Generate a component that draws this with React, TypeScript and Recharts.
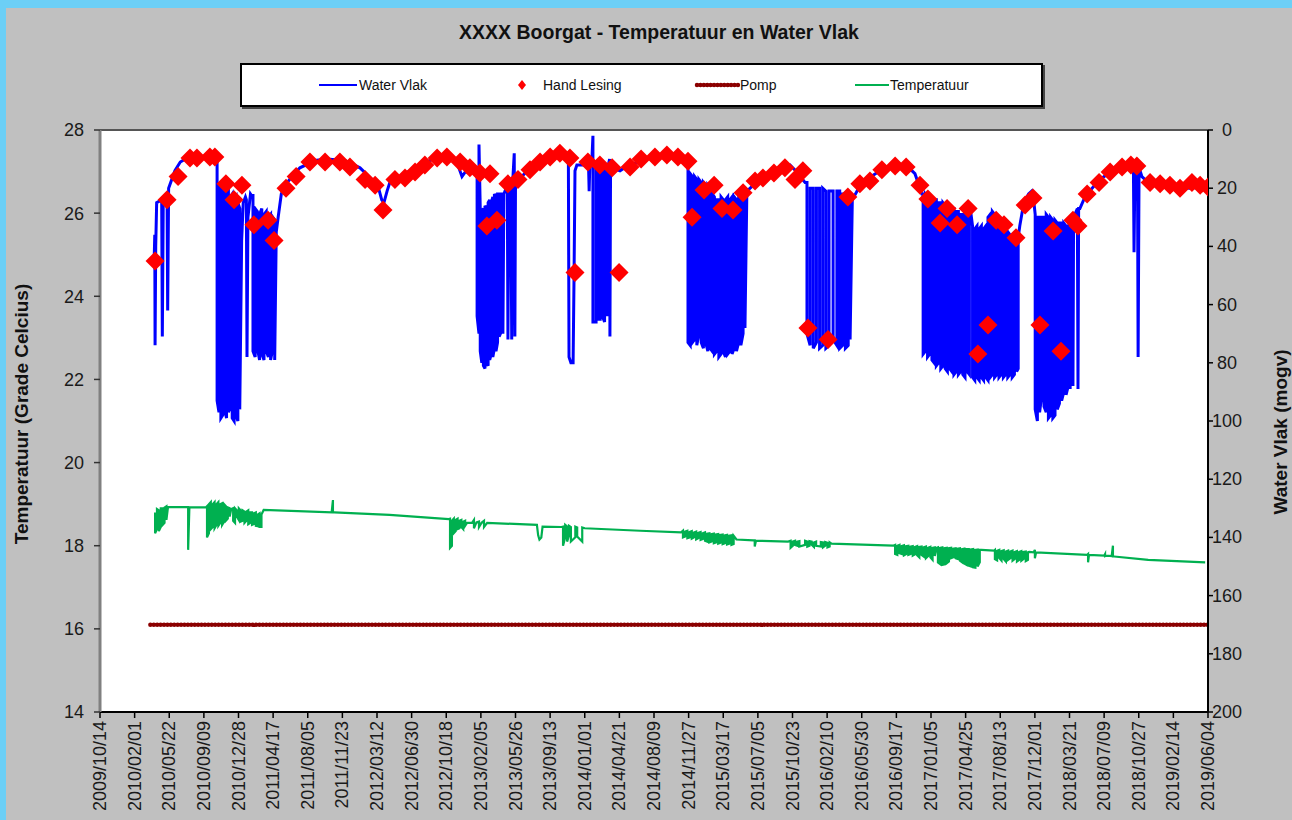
import React from 'react';
import { ComposedChart, Line, Scatter, XAxis, YAxis, ReferenceLine } from 'recharts';

const FONT = '"Liberation Sans", Arial, Helvetica, sans-serif';

// x values are days counted from 2009/10/14 (the first date tick)
const tickLabels = [
  '2009/10/14', '2010/02/01', '2010/05/22', '2010/09/09', '2010/12/28', '2011/04/17',
  '2011/08/05', '2011/11/23', '2012/03/12', '2012/06/30', '2012/10/18', '2013/02/05',
  '2013/05/26', '2013/09/13', '2014/01/01', '2014/04/21', '2014/08/09', '2014/11/27',
  '2015/03/17', '2015/07/05', '2015/10/23', '2016/02/10', '2016/05/30', '2016/09/17',
  '2017/01/05', '2017/04/25', '2017/08/13', '2017/12/01', '2018/03/21', '2018/07/09',
  '2018/10/27', '2019/02/14', '2019/06/04',
];
const tempTicks = [14, 16, 18, 20, 22, 24, 26, 28];
const waterTicks = [0, 20, 40, 60, 80, 100, 120, 140, 160, 180, 200];

// Water Vlak (mogv): level between pumping periods and single drops [day, level]
const waterLevel: [number, number][] = [
  [172, 45], [174, 36], [175, 74], [177, 40], [180, 25], [196, 24], [198, 71], [201, 24], [213, 22],
  [215, 62], [218, 20], [238, 14], [255, 11], [270, 10], [300, 9.3], [340, 9], [368, 9],
  [450, 38], [455, 25], [462, 23], [465, 24], [467, 78], [470, 30], [478, 22], [484, 23],
  [560, 35], [566, 30], [576, 22], [588, 19], [610, 16], [635, 13], [683, 10.5], [720, 10],
  [778, 10.5], [826, 13], [864, 17], [885, 20], [895, 24], [902, 25], [912, 21], [921, 18],
  [953, 16], [1017, 12], [1080, 9], [1128, 10], [1140, 13], [1150, 16], [1160, 14.5], [1191, 14], [1196, 15],
  [1276, 22], [1280, 70], [1283, 22], [1294, 19], [1296, 72], [1299, 19], [1305, 18], [1308, 72],
  [1311, 18], [1316, 8], [1318, 71], [1320, 18],
  [1340, 16], [1366, 13], [1400, 11], [1446, 8], [1470, 8], [1488, 10], [1490, 78], [1496, 80],
  [1503, 80], [1506, 50], [1509, 14], [1515, 12], [1530, 12], [1552, 12], [1554, 21], [1556, 12], [1562, 12],
  [1615, 12], [1619, 10], [1620, 71], [1622, 12], [1627, 13], [1652, 14], [1680, 12], [1716, 11],
  [1750, 9], [1779, 8.5], [1810, 8.5], [1843, 9], [1864, 12],
  [2055, 21], [2075, 19], [2097, 17], [2140, 14], [2192, 12], [2210, 14], [2224, 16], [2240, 18],
  [2390, 24], [2415, 19], [2450, 16], [2478, 14], [2510, 12.5], [2542, 12], [2570, 13], [2589, 15],
  [2605, 20], [2611, 22], [2766, 28],
  [2922, 33], [2930, 28], [2940, 24], [2950, 22], [2960, 21], [2966, 24],
  [3089, 30], [3091, 88], [3093, 30], [3105, 27], [3107, 89], [3109, 27],
  [3113, 27], [3125, 24], [3136, 22], [3160, 19], [3177, 17], [3209, 14.5], [3240, 13], [3256, 12],
  [3275, 11.5], [3283, 12], [3285, 42], [3288, 12], [3296, 12], [3298, 78], [3301, 13], [3310, 16],
  [3330, 18], [3400, 19], [3460, 20], [3515, 19.5],
];

// pumping periods: [day, recovered level, pumped level]
const pumpingBands: [number, number, number][][] = [
  [
    [372, 9, 93], [378, 18, 97], [384, 20, 99], [390, 19, 98], [396, 21, 96], [402, 22, 99], [408, 20, 97],
    [414, 23, 95], [420, 22, 99], [426, 24, 100], [432, 23, 98], [438, 25, 100], [444, 27, 96],
  ],
  [
    [486, 22, 76], [493, 27, 78], [500, 28, 75], [507, 29, 79], [514, 27, 77], [521, 29, 79],
    [528, 28, 76], [535, 30, 78], [542, 29, 79], [549, 30, 75], [555, 31, 79],
  ],
  [
    [1198, 15, 64], [1204, 5, 70], [1208, 27, 76], [1213, 28, 80], [1218, 27, 81], [1223, 26, 82],
    [1228, 27, 80], [1233, 25, 81], [1238, 24, 79], [1243, 25, 77], [1248, 23, 78], [1253, 22, 75],
    [1258, 23, 76], [1263, 22, 73], [1268, 22, 71], [1272, 22, 70],
  ],
  [
    [1566, 2, 66], [1576, 12, 66], [1582, 12, 65], [1589, 13, 65], [1596, 12, 64], [1603, 13, 66], [1611, 12, 64],
  ],
  [
    [1868, 12, 73], [1875, 15, 74], [1882, 16, 73], [1889, 16, 72], [1896, 17, 74], [1903, 17, 70],
    [1910, 18, 73], [1917, 18, 75], [1924, 19, 73], [1931, 19, 76], [1938, 20, 75], [1945, 22, 76],
    [1952, 23, 77], [1959, 24, 76], [1966, 24, 78], [1973, 23, 77], [1980, 24, 76], [1987, 24, 78],
    [1994, 23, 77], [2001, 24, 76], [2008, 23, 77], [2015, 23, 75], [2022, 24, 76], [2029, 23, 73],
    [2036, 22, 74], [2043, 22, 70], [2049, 22, 68],
  ],
  [
    [2246, 18, 70], [2256, 20, 74], [2266, 20, 75], [2276, 20, 73], [2286, 20, 75], [2296, 20, 74],
    [2306, 21, 75], [2316, 21, 74], [2329, 21, 72], [2341, 21, 74], [2350, 21, 75], [2359, 22, 74],
    [2368, 22, 75], [2377, 22, 74], [2383, 23, 72],
  ],
  [
    [2615, 22, 77], [2622, 22, 76], [2629, 23, 78], [2636, 23, 77], [2643, 24, 79], [2650, 24, 80],
    [2657, 24, 81], [2664, 25, 80], [2671, 25, 82], [2678, 25, 81], [2685, 26, 82], [2692, 26, 83],
    [2699, 26, 82], [2706, 27, 83], [2713, 27, 84], [2720, 28, 83], [2727, 28, 84], [2734, 29, 83],
    [2741, 29, 84], [2748, 28, 85], [2755, 27, 83], [2762, 27, 84],
  ],
  [
    [2772, 33, 85], [2779, 34, 86], [2786, 33, 85], [2793, 34, 86], [2800, 33, 85], [2807, 34, 86],
    [2814, 33, 85], [2821, 30, 86], [2828, 29, 85], [2835, 28, 84], [2842, 29, 85], [2849, 30, 84],
    [2856, 31, 85], [2863, 32, 84], [2870, 33, 85], [2877, 34, 84], [2884, 35, 85], [2891, 36, 84],
    [2898, 37, 85], [2905, 37, 84], [2912, 38, 83], [2917, 37, 82],
  ],
  [
    [2971, 29, 96], [2978, 30, 100], [2985, 30, 97], [2992, 30, 91], [2999, 30, 95], [3006, 29, 97],
    [3013, 30, 99], [3020, 30, 98], [3027, 31, 99], [3034, 31, 98], [3041, 32, 96], [3048, 32, 94],
    [3055, 32, 93], [3062, 32, 90], [3069, 33, 91], [3076, 33, 88], [3082, 32, 89],
  ],
];

// Hand Lesing: manual readings [day, level]
const handReadings: [number, number][] = [
  [175, 45], [213, 24], [248, 16], [286, 9.6], [308, 9.6], [349, 9.3], [365, 9.3], [400, 18.5],
  [426, 24], [451, 19], [489, 32.6], [534, 31], [553, 38], [591, 20], [623, 16], [667, 11],
  [715, 11], [762, 11], [794, 12.7], [842, 17], [874, 19], [899, 27.5], [937, 17], [969, 16.5],
  [1001, 14.4], [1032, 12], [1071, 9.6], [1102, 9.3], [1144, 11], [1175, 13], [1207, 14.8],
  [1229, 33], [1239, 15], [1261, 31], [1296, 18.5], [1328, 17], [1366, 13.7], [1398, 11],
  [1430, 9.3], [1461, 8], [1493, 9.6], [1509, 49], [1550, 11], [1588, 12], [1627, 13], [1649, 49],
  [1684, 12.7], [1719, 10], [1763, 9.3], [1801, 8.6], [1836, 9.3], [1868, 10.7], [1881, 30],
  [1919, 20.6], [1951, 19], [1976, 27], [2011, 27.5], [2043, 21.6], [2081, 17.5], [2106, 16.5],
  [2141, 14.8], [2176, 13], [2208, 17], [2233, 14], [2249, 68], [2313, 72], [2376, 23],
  [2414, 18.5], [2446, 17.5], [2484, 13.7], [2526, 12.4], [2561, 12.7], [2605, 19], [2630, 23.7],
  [2669, 32], [2691, 27], [2723, 32.6], [2758, 27], [2789, 77], [2821, 67], [2847, 31], [2872, 32.6],
  [2910, 37], [2939, 25.8], [2964, 23.4], [2986, 67], [3028, 34.7], [3053, 76], [3091, 31],
  [3107, 33], [3136, 22], [3174, 18], [3209, 14.4], [3247, 12.7], [3275, 12], [3294, 12.4],
  [3336, 18], [3368, 18.5], [3399, 19], [3431, 20], [3469, 18], [3495, 19], [3520, 19.6],
];

// Pomp (left axis)
const pumpLine: [number, number][] = [[160, 16.1], [3520, 16.1]];

// Temperatuur (Grade Celcius): steady readings [day, temp]
const tempLevel: [number, number][] = [
  [216, 18.93], [276, 18.93], [284, 18.93], [336, 18.92], [417, 18.88], [520, 18.86], [736, 18.8],
  [744, 18.8], [920, 18.74], [1108, 18.64], [1166, 18.55], [1182, 18.55], [1196, 18.56], [1212, 18.55],
  [1230, 18.55], [1388, 18.5], [1392, 18.25], [1396, 18.15], [1402, 18.2], [1406, 18.46], [1466, 18.45],
  [1540, 18.42], [1716, 18.36], [1846, 18.32], [2022, 18.15], [2076, 18.13], [2084, 18.12],
  [2186, 18.1], [2324, 18.05], [2520, 18.0], [2658, 17.95], [2800, 17.9], [2840, 17.88], [2952, 17.85],
  [2966, 17.84], [2974, 17.84], [3136, 17.78], [3142, 17.78], [3190, 17.76], [3196, 17.76],
  [3214, 17.75], [3222, 17.74], [3330, 17.66], [3511, 17.6],
];

// temperature swings while pumping: [day, high, low]
const tempBands: [number, number, number][][] = [
  [[175, 18.8, 18.3], [181, 18.88, 18.4], [187, 18.85, 18.35], [193, 18.9, 18.45], [199, 18.9, 18.5], [205, 18.92, 18.55], [211, 18.95, 18.62]],
  [[280, 18.93, 17.9]],
  [
    [340, 18.95, 18.2], [346, 19.0, 18.3], [352, 19.05, 18.4], [358, 19.0, 18.45], [364, 19.05, 18.42],
    [370, 19.0, 18.5], [376, 19.05, 18.48], [382, 19.0, 18.55], [388, 19.02, 18.5], [394, 19.0, 18.58],
    [400, 18.95, 18.6], [406, 18.92, 18.65], [412, 18.9, 18.7],
  ],
  [
    [423, 18.9, 18.6], [429, 18.9, 18.55], [435, 18.85, 18.7], [441, 18.9, 18.62], [447, 18.85, 18.58],
    [453, 18.85, 18.6], [459, 18.82, 18.55], [465, 18.82, 18.6], [471, 18.85, 18.52], [477, 18.8, 18.55],
    [483, 18.8, 18.5], [489, 18.78, 18.52], [495, 18.8, 18.48], [501, 18.75, 18.47], [507, 18.78, 18.45], [513, 18.75, 18.45],
  ],
  [[740, 19.1, 18.8]],
  [
    [1112, 18.65, 17.95], [1118, 18.6, 18.0], [1124, 18.65, 18.3], [1130, 18.62, 18.35], [1136, 18.65, 18.4],
    [1142, 18.6, 18.42], [1148, 18.62, 18.45], [1154, 18.58, 18.4], [1160, 18.6, 18.48],
  ],
  [[1188, 18.62, 18.42]],
  [[1204, 18.58, 18.45]],
  [[1220, 18.6, 18.45]],
  [[1471, 18.46, 18.0], [1478, 18.5, 18.2], [1484, 18.46, 18.1], [1490, 18.48, 18.25], [1496, 18.45, 18.1], [1510, 18.46, 18.2], [1516, 18.44, 18.22], [1532, 18.44, 18.1]],
  [
    [1852, 18.36, 18.2], [1859, 18.34, 18.22], [1866, 18.36, 18.18], [1873, 18.33, 18.2], [1880, 18.35, 18.17],
    [1887, 18.32, 18.2], [1894, 18.34, 18.15], [1901, 18.31, 18.18], [1908, 18.33, 18.14], [1915, 18.3, 18.16],
    [1922, 18.32, 18.12], [1929, 18.29, 18.1], [1936, 18.3, 18.08], [1943, 18.28, 18.1], [1950, 18.29, 18.06],
    [1957, 18.27, 18.08], [1964, 18.28, 18.05], [1971, 18.26, 18.07], [1978, 18.27, 18.04], [1985, 18.25, 18.06],
    [1992, 18.26, 18.03], [1999, 18.24, 18.05], [2006, 18.25, 18.02], [2013, 18.24, 18.04],
  ],
  [[2080, 18.13, 17.98]],
  [
    [2194, 18.12, 17.95], [2201, 18.1, 18.0], [2208, 18.12, 18.02], [2215, 18.1, 18.0], [2222, 18.11, 17.98],
    [2240, 18.12, 18.02], [2247, 18.1, 17.98], [2254, 18.11, 18.0], [2261, 18.1, 18.02], [2268, 18.08, 17.97],
    [2275, 18.1, 18.0], [2290, 18.09, 17.98], [2297, 18.08, 17.96], [2304, 18.09, 18.0], [2311, 18.07, 17.96], [2318, 18.08, 17.98],
  ],
  [
    [2526, 18.02, 17.8], [2533, 18.0, 17.78], [2540, 18.02, 17.82], [2547, 17.99, 17.8], [2554, 18.01, 17.77],
    [2561, 17.99, 17.8], [2568, 18.0, 17.78], [2575, 17.98, 17.8], [2582, 17.99, 17.76], [2589, 17.97, 17.79],
    [2596, 17.99, 17.77], [2603, 17.97, 17.72], [2610, 17.98, 17.78], [2617, 17.96, 17.74], [2624, 17.98, 17.7],
    [2631, 17.95, 17.75], [2638, 17.97, 17.72], [2645, 17.95, 17.66], [2652, 17.96, 17.75],
  ],
  [
    [2662, 17.96, 17.6], [2669, 17.95, 17.56], [2676, 17.96, 17.54], [2683, 17.94, 17.55], [2690, 17.95, 17.58],
    [2697, 17.94, 17.62], [2704, 17.95, 17.7], [2711, 17.93, 17.72], [2718, 17.94, 17.7], [2725, 17.93, 17.68],
    [2732, 17.94, 17.64], [2739, 17.92, 17.6], [2746, 17.93, 17.57], [2753, 17.92, 17.54], [2760, 17.92, 17.52],
    [2767, 17.91, 17.5], [2774, 17.92, 17.48], [2781, 17.9, 17.47], [2788, 17.91, 17.5], [2795, 17.9, 17.6],
  ],
  [
    [2843, 17.9, 17.68], [2850, 17.88, 17.65], [2857, 17.9, 17.7], [2864, 17.87, 17.64], [2871, 17.89, 17.68],
    [2878, 17.86, 17.62], [2885, 17.88, 17.66], [2892, 17.86, 17.7], [2899, 17.88, 17.64], [2906, 17.85, 17.68],
    [2913, 17.87, 17.62], [2920, 17.85, 17.66], [2927, 17.87, 17.64], [2934, 17.85, 17.68], [2941, 17.86, 17.63], [2948, 17.84, 17.66],
  ],
  [[2970, 17.9, 17.7]],
  [[3139, 17.8, 17.6]],
  [[3193, 17.8, 17.75]],
  [[3218, 18.0, 17.74]],
];

const toDay = (s: string) => {
  const [y, m, d] = s.split('/').map(Number);
  return Math.round((Date.UTC(y, m - 1, d) - Date.UTC(2009, 9, 14)) / 864e5);
};
const tickDays = tickLabels.map(toDay);

// merges steady readings with the up/down swings of each band, in date order
function buildSeries(points: [number, number][], bands: [number, number, number][][], key: string) {
  const rows: Record<string, number>[] = points.map(([t, v]) => ({ t, [key]: v }));
  bands.forEach((band) =>
    band.forEach(([t, a, b], i) => {
      const pair = i % 2 === 0 ? [a, b] : [b, a];
      pair.forEach((v) => rows.push({ t, [key]: v }));
    }),
  );
  return rows.sort((p, q) => p.t - q.t);
}

const waterData = buildSeries(waterLevel, pumpingBands, 'w');
const tempData = buildSeries(tempLevel, tempBands, 'v');
const pumpData = pumpLine.map(([t, v]) => ({ t, v }));
const handData = handReadings.map(([t, w]) => ({ t, w }));

function DateTick({ x, y, payload }: any) {
  const label = tickLabels[tickDays.indexOf(payload.value)] ?? '';
  return (
    <text x={x} y={y} transform={`rotate(-90 ${x} ${y})`} textAnchor="end" dominantBaseline="central"
      fontSize={18} fill="#1a1a1a" fontFamily={FONT}>
      {label}
    </text>
  );
}

function WaterTick({ x, y, payload }: any) {
  return (
    <text x={x + 12} y={y} textAnchor="middle" dominantBaseline="central" fontSize={18} fill="#1a1a1a" fontFamily={FONT}>
      {payload.value}
    </text>
  );
}

function Diamond({ cx, cy }: any) {
  if (cx == null || cy == null) return null;
  const r = 9.5;
  return <polygon points={`${cx},${cy - r} ${cx + r},${cy} ${cx},${cy + r} ${cx - r},${cy}`} fill="#ff0000" />;
}

const legendText: React.CSSProperties = { position: 'absolute', top: 12, fontSize: 14, color: '#111', lineHeight: '16px' };
const axisTitle: React.CSSProperties = {
  position: 'absolute', transform: 'translate(-50%, -50%) rotate(-90deg)', fontSize: 19, fontWeight: 700, color: '#111', whiteSpace: 'nowrap',
};

export default function App() {
  return (
    <div style={{ position: 'absolute', left: 0, top: 0, width: 1292, height: 820, background: '#6ccff6', overflow: 'hidden', fontFamily: FONT }}>
      <div style={{ position: 'absolute', left: 6, top: 8, width: 1286, height: 812, background: '#c0c0c0' }} />
      <div style={{ position: 'absolute', left: 100, top: 130, width: 1108, height: 582, background: '#ffffff' }} />

      <div style={{ position: 'absolute', left: 659, top: 22, transform: 'translateX(-50%)', fontSize: 19.5, fontWeight: 700, color: '#111', whiteSpace: 'nowrap', lineHeight: '20px' }}>
        XXXX Boorgat - Temperatuur en Water Vlak
      </div>

      <div style={{ position: 'absolute', left: 240, top: 63, width: 799, height: 40, background: '#fff', border: '2px solid #000', boxShadow: '2px 2px 0 #444' }}>
        <svg width={799} height={40} style={{ position: 'absolute', left: 0, top: 0 }}>
          <line x1={77} y1={20} x2={115} y2={20} stroke="#0000ff" strokeWidth={2} />
          <polygon points="280,15 284,20 280,25 276,20" fill="#ff0000" />
          <line x1={455} y1={20} x2={497} y2={20} stroke="#8b0000" strokeWidth={4.5} strokeDasharray="0.01 3.4" strokeLinecap="round" />
          <line x1={613} y1={20} x2={647} y2={20} stroke="#00b050" strokeWidth={2} />
        </svg>
        <span style={{ ...legendText, left: 117 }}>Water Vlak</span>
        <span style={{ ...legendText, left: 301 }}>Hand Lesing</span>
        <span style={{ ...legendText, left: 498 }}>Pomp</span>
        <span style={{ ...legendText, left: 648 }}>Temperatuur</span>
      </div>

      <div style={{ ...axisTitle, left: 22, top: 414 }}>Temperatuur (Grade Celcius)</div>
      <div style={{ ...axisTitle, left: 1281, top: 432 }}>Water Vlak (mogv)</div>

      <div style={{ position: 'absolute', left: 0, top: 0 }}>
        <ComposedChart width={1292} height={820} margin={{ top: 130, right: 34, bottom: 8, left: 36 }}>
          <XAxis
            type="number"
            dataKey="t"
            domain={[0, tickDays[tickDays.length - 1]]}
            ticks={tickDays}
            interval={0}
            allowDataOverflow
            height={100}
            tickSize={6}
            tickMargin={3}
            tick={<DateTick />}
            axisLine={{ stroke: '#000', strokeWidth: 2 }}
            tickLine={{ stroke: '#000', strokeWidth: 1.5 }}
          />
          <YAxis
            yAxisId="temp"
            type="number"
            dataKey="v"
            domain={[14, 28]}
            ticks={tempTicks}
            interval={0}
            allowDataOverflow
            width={64}
            tickSize={6}
            tickMargin={10}
            tick={{ fontSize: 18, fill: '#1a1a1a', fontFamily: FONT }}
            axisLine={{ stroke: '#808080', strokeWidth: 3 }}
            tickLine={{ stroke: '#333', strokeWidth: 1.5 }}
          />
          <YAxis
            yAxisId="water"
            orientation="right"
            type="number"
            dataKey="w"
            reversed
            domain={[0, 200]}
            ticks={waterTicks}
            interval={0}
            allowDataOverflow
            width={50}
            tickSize={5}
            tickMargin={2}
            tick={<WaterTick />}
            axisLine={{ stroke: '#000', strokeWidth: 2 }}
            tickLine={{ stroke: '#000', strokeWidth: 1.5 }}
          />
          <ReferenceLine yAxisId="temp" y={28} stroke="#555" strokeWidth={2} />
          <Line yAxisId="water" data={waterData} dataKey="w" stroke="#0000ff" strokeWidth={3} dot={false} isAnimationActive={false} />
          <Line yAxisId="temp" data={tempData} dataKey="v" stroke="#00b050" strokeWidth={2.2} dot={false} isAnimationActive={false} />
          <Line yAxisId="temp" data={pumpData} dataKey="v" stroke="#8b0000" strokeWidth={4.5} strokeDasharray="0.01 3.4"
            strokeLinecap="round" dot={false} isAnimationActive={false} />
          <Scatter yAxisId="water" data={handData} dataKey="w" shape={<Diamond />} isAnimationActive={false} />
        </ComposedChart>
      </div>
    </div>
  );
}
